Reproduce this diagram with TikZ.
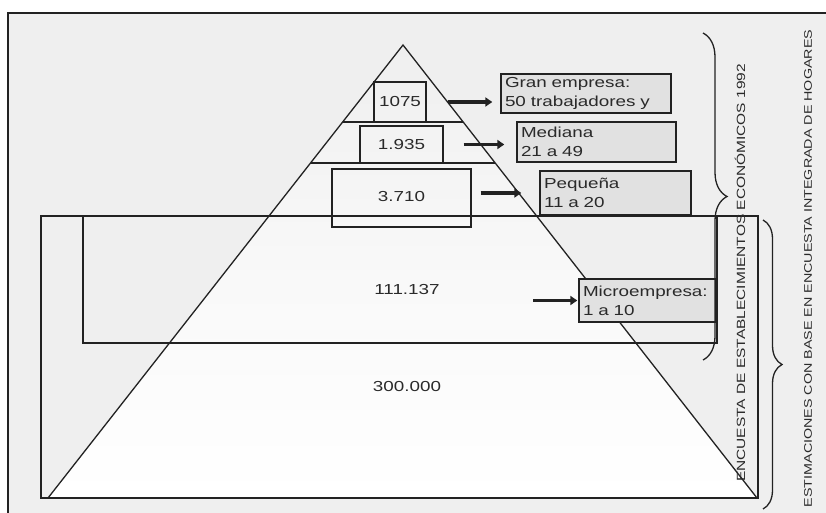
\documentclass[tikz,border=0pt]{standalone}
\usepackage{fontspec}
\setmainfont{Liberation Sans}[FakeStretch=1.3]
\usetikzlibrary{arrows.meta,decorations.pathreplacing,calc}
\definecolor{bg}{HTML}{EFEFEF}
\definecolor{ln}{HTML}{222222}
\definecolor{labfill}{HTML}{E1E1E1}
\definecolor{tx}{HTML}{2A2A2A}
\begin{document}
\begin{tikzpicture}[x=1pt,y=-1pt,line width=1.3pt,
  every node/.style={font=\fontsize{14.5}{19}\selectfont, text=tx},
  numbox/.style={draw=ln, line width=1.4pt, inner sep=0pt},
  labbox/.style={draw=ln, line width=1.4pt, fill=labfill, align=left, inner xsep=4pt, inner ysep=0pt},
  arr/.style={draw=ln, line width=3.5pt, -{Triangle[length=7pt,width=9pt]}},
  bracestyle/.style={draw=ln, line width=1.3pt, decorate},
  vtext/.style={rotate=90, inner sep=0pt}]
\useasboundingbox (0,0) rectangle (826,513);
\fill[white] (0,0) rectangle (826,513);
\fill[bg] (8,13) rectangle (826,513);
\draw[ln, line width=1.8pt] (8,513) -- (8,13) -- (826,13);
% pyramid
\coordinate (apex) at (403,45);
\coordinate (bl) at (48,498);
\coordinate (br) at (757,498);
\shade[top color=bg, bottom color=white, middle color=bg!40] (apex) -- (bl) -- (br) -- cycle;
\draw[ln] (41,216) rectangle (758,498);
\draw[ln] (83,216) rectangle (717,343);
\draw[ln] (bl) -- (apex) -- (br);
\draw[ln] ($(apex)!0.170!(bl)$) -- ($(apex)!0.170!(br)$);
\draw[ln] ($(apex)!0.2605!(bl)$) -- ($(apex)!0.2605!(br)$);
% number boxes
\node[numbox, minimum width=52, minimum height=40] (b1) at (400,102) {1075};
\node[numbox, minimum width=83, minimum height=37] (b2) at (401.5,144.5) {1.935};
\node[numbox, minimum width=139, minimum height=58] (b3) at (401.5,198) {\raisebox{4pt}{3.710}};
\node (t111) at (407,290) {111.137};
\node (t300) at (407,387) {300.000};
% label boxes
\node[labbox, text width=162pt, minimum height=39] (l1) at (586,93.5) {Gran empresa:\\50 trabajadores y};
\node[labbox, text width=151pt, minimum height=40] (l2) at (596.5,142) {Mediana\\21 a 49};
\node[labbox, text width=143pt, minimum height=44] (l3) at (615.5,193) {Pequeña\\11 a 20};
\node[labbox, text width=129pt, minimum height=43] (l4) at (647.5,300.5) {Microempresa:\\1 a 10};
% arrows
\draw[arr, shorten <=21pt, shorten >=8pt] (b1.east) -- (b1.east -| l1.west);
\draw[arr, shorten <=20pt, shorten >=12pt] (b2.east) -- (b2.east -| l2.west);
\draw[arr, shorten <=9pt, shorten >=18pt] (b3.east |- l3.west) -- (l3.west);
\coordinate (a4s) at (533,300.5);
\draw[arr, shorten >=1pt] (a4s) -- (l4.west);
% braces
\draw[bracestyle, decoration={brace, amplitude=24pt}] (703,33) -- (703,360);
\draw[bracestyle, decoration={brace, amplitude=19pt}] (763,220) -- (763,509);
% vertical texts
\node[vtext, font=\fontsize{11.9}{14}\selectfont] (v1) at (740,273) {ENCUESTA DE ESTABLECIMIENTOS ECONÓMICOS 1992};
\node[vtext, font=\fontsize{11}{13}\selectfont] (v2) at (808,268.5) {ESTIMACIONES CON BASE EN ENCUESTA INTEGRADA DE HOGARES};
\end{tikzpicture}
\end{document}
